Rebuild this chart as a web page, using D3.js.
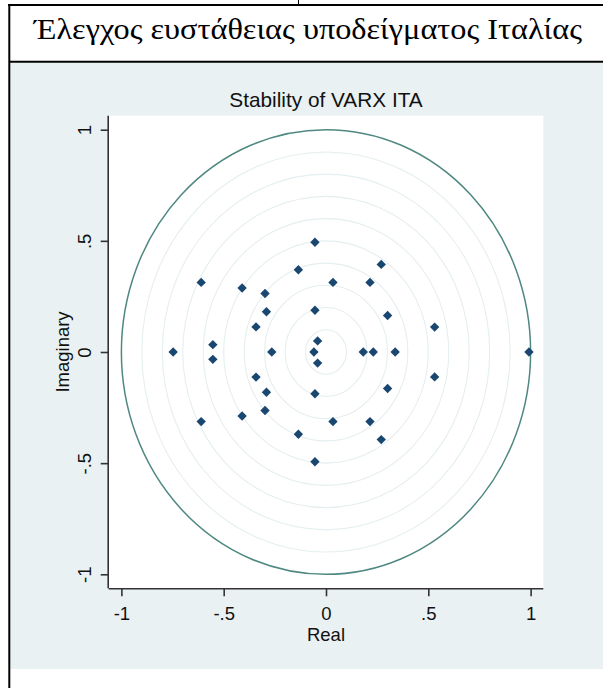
<!DOCTYPE html>
<html>
<head>
<meta charset="utf-8">
<script src="https://cdn.jsdelivr.net/npm/d3@7"></script>
<style>
  html, body { margin: 0; padding: 0; background: #ffffff; }
  svg { display: block; }
</style>
</head>
<body>
<script>
// Eigenvalues of the VARX companion matrix (real and imaginary parts)
const realPart = [
  0.992, -0.747, -0.610, -0.610, -0.553, -0.553, -0.410, -0.410,
  -0.342, -0.342, -0.298, -0.298, -0.291, -0.291, -0.265,
  -0.135, -0.135, -0.054, -0.054, -0.054, -0.054, -0.041, -0.041, -0.059,
  0.034, 0.034, 0.182, 0.231, 0.338, 0.215, 0.215,
  0.270, 0.270, 0.301, 0.301, 0.531, 0.531
];
const imagPart = [
  0, 0, 0.313, -0.313, 0.033, -0.033, 0.288, -0.288,
  0.113, -0.113, 0.263, -0.263, 0.181, -0.181, 0,
  0.370, -0.370, 0.494, -0.494, 0.188, -0.188, 0.050, -0.050, 0,
  0.313, -0.313, 0, 0, 0, 0.313, -0.313,
  0.394, -0.394, 0.164, -0.164, 0.112, -0.112
];
const xTicks = [-1, -0.5, 0, 0.5, 1];
const yTicks = [-1, -0.5, 0, 0.5, 1];
const xTickLabels = ["-1", "-.5", "0", ".5", "1"];
const yTickLabels = ["-1", "-.5", "0", ".5", "1"];
const gridRadii = [0.1, 0.2, 0.3, 0.4, 0.5, 0.6, 0.7, 0.8, 0.9];
const unitRadius = [1];

const headerText = "Έλεγχος ευστάθειας υποδείγματος Ιταλίας";
const chartTitle = "Stability of VARX ITA";
const xTitle = "Real";
const yTitle = "Imaginary";

const W = 603, H = 688;
const svg = d3.select("body").append("svg").attr("width", W).attr("height", H);

// Table cell frame around the figure
svg.append("rect").attr("x", 10).attr("y", 63).attr("width", W - 10).attr("height", 606)
  .attr("fill", "#eaf1f3");
svg.append("line").attr("x1", 8).attr("x2", W).attr("y1", 5).attr("y2", 5)
  .attr("stroke", "#000").attr("stroke-width", 2);
svg.append("line").attr("x1", 298.5).attr("x2", 298.5).attr("y1", 0).attr("y2", 5)
  .attr("stroke", "#000").attr("stroke-width", 1);
svg.append("line").attr("x1", 9.3).attr("x2", 9.3).attr("y1", 4).attr("y2", H)
  .attr("stroke", "#000").attr("stroke-width", 2);
svg.append("line").attr("x1", 9).attr("x2", W).attr("y1", 61.7).attr("y2", 61.7)
  .attr("stroke", "#000").attr("stroke-width", 2);

svg.append("text").attr("x", 34).attr("y", 38.5)
  .attr("font-family", "'Liberation Serif', 'Times New Roman', serif")
  .attr("font-size", 29).attr("fill", "#000")
  .attr("textLength", 548).attr("lengthAdjust", "spacingAndGlyphs")
  .text(headerText);

// Plot region
const pLeft = 108.7, pRight = 543.3, pTop = 115.7, pBottom = 588.3;
const x = d3.scaleLinear().domain([-1.062, 1.062]).range([pLeft, pRight]);
const y = d3.scaleLinear().domain([-1.063, 1.063]).range([pBottom, pTop]);

svg.append("rect").attr("x", pLeft).attr("y", pTop)
  .attr("width", pRight - pLeft).attr("height", pBottom - pTop).attr("fill", "#ffffff");

const g = svg.append("g");

// Concentric modulus circles (drawn as ellipses in data space)
const ellipse = r => g.append("ellipse")
  .attr("cx", x(0)).attr("cy", y(0))
  .attr("rx", x(r) - x(0)).attr("ry", y(0) - y(r));

gridRadii.forEach(r => ellipse(r).attr("fill", "none")
  .attr("stroke", "#e5eef0").attr("stroke-width", 1.1));
unitRadius.forEach(r => ellipse(r).attr("fill", "none")
  .attr("stroke", "#4f8881").attr("stroke-width", 1.5));

// Eigenvalue markers
const diamond = d3.symbol().type(d3.symbolSquare).size(44);
const pts = realPart.map((re, i) => ({ re, im: imagPart[i] }));
g.selectAll("path.eig").data(pts).enter().append("path")
  .attr("class", "eig")
  .attr("d", diamond)
  .attr("transform", d => `translate(${x(d.re)},${y(d.im)}) rotate(45)`)
  .attr("fill", "#1a476f");

// Axes
const font = "'Liberation Sans', Arial, sans-serif";
const xAxis = d3.axisBottom(x).tickValues(xTicks)
  .tickFormat((d, i) => xTickLabels[i]).tickSize(8).tickPadding(4).tickSizeOuter(0);
const gx = svg.append("g").attr("transform", `translate(0,${pBottom})`).call(xAxis);
gx.select(".domain").attr("d", `M${pLeft},0.5H${pRight}`).attr("stroke", "#333").attr("stroke-width", 1.6);
gx.selectAll(".tick line").attr("stroke", "#333").attr("stroke-width", 1.6);
gx.selectAll(".tick text").attr("font-family", font).attr("font-size", 18.5)
  .attr("fill", "#111").attr("dy", null).attr("y", 31.7);

const yAxis = d3.axisLeft(y).tickValues(yTicks)
  .tickFormat((d, i) => yTickLabels[i]).tickSize(8).tickSizeOuter(0);
const gy = svg.append("g").attr("transform", `translate(${pLeft},0)`).call(yAxis);
gy.select(".domain").attr("d", `M-0.5,${pTop}V${pBottom}`).attr("stroke", "#333").attr("stroke-width", 1.6);
gy.selectAll(".tick line").attr("stroke", "#333").attr("stroke-width", 1.6);
gy.selectAll(".tick text").attr("font-family", font).attr("font-size", 18.5)
  .attr("fill", "#111")
  .attr("x", null).attr("dy", null).attr("y", null)
  .attr("text-anchor", "middle")
  .attr("transform", "translate(-18.2,0) rotate(-90)");

// Titles
svg.append("text").attr("x", (pLeft + pRight) / 2).attr("y", 106.5)
  .attr("text-anchor", "middle").attr("font-family", font).attr("font-size", 20.8)
  .attr("fill", "#111").text(chartTitle);
svg.append("text").attr("x", (pLeft + pRight) / 2).attr("y", 640.5)
  .attr("text-anchor", "middle").attr("font-family", font).attr("font-size", 18.5)
  .attr("fill", "#111").text(xTitle);
svg.append("text")
  .attr("transform", `translate(68.5,${y(0)}) rotate(-90)`)
  .attr("text-anchor", "middle").attr("font-family", font).attr("font-size", 18.5)
  .attr("fill", "#111").text(yTitle);
</script>
</body>
</html>
